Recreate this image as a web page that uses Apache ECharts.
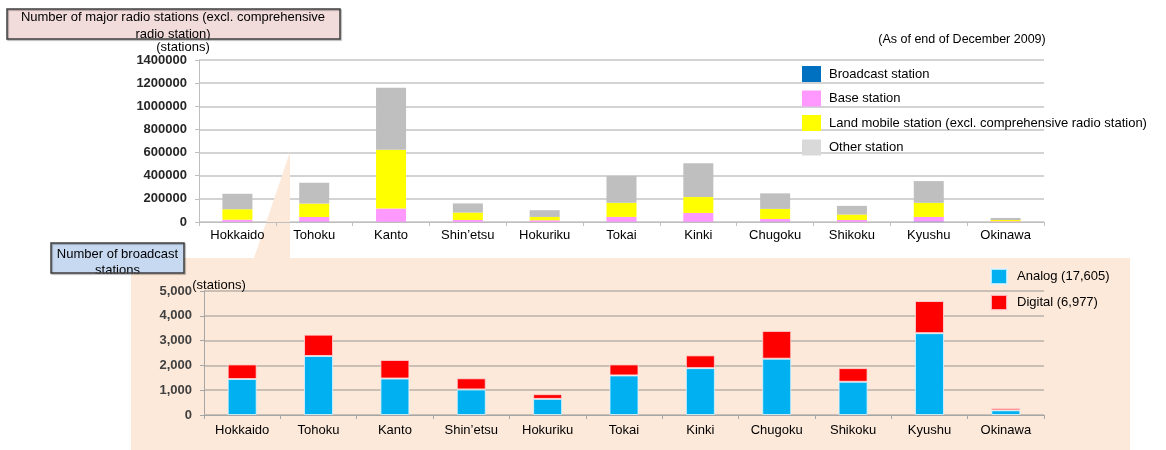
<!DOCTYPE html>
<html>
<head>
<meta charset="utf-8">
<script src="https://cdn.jsdelivr.net/npm/echarts@6/dist/echarts.min.js"></script>
<style>
html,body{margin:0;padding:0;background:#fff;}
#chart{width:1166px;height:450px;}
</style>
</head>
<body>
<div id="chart"></div>
<script>
var regions = ["Hokkaido","Tohoku","Kanto","Shin\u2019etsu","Hokuriku","Tokai","Kinki","Chugoku","Shikoku","Kyushu","Okinawa"];

// Top chart: major radio stations (stacked)
var broadcastStation = [2040, 3240, 2220, 1480, 840, 2040, 2405, 3390, 1890, 4595, 280];
var baseStation      = [18000, 40000, 114000, 16000, 14000, 42000, 76000, 23000, 15500, 39000, 5700];
var landMobile       = [90000, 116000, 509000, 64000, 29000, 122000, 137000, 87000, 47000, 122000, 11000];
var otherStation     = [134000, 180000, 534000, 79000, 58000, 232000, 293000, 134000, 75000, 188000, 18000];

// Bottom chart: broadcast stations
var analog  = [1450, 2380, 1470, 1030, 650, 1595, 1890, 2270, 1340, 3300, 190];
var digital = [590, 860, 750, 450, 190, 445, 515, 1120, 550, 1295, 90];

var topTicks = [0, 1400000, 200000];
var bottomTicks = [0, 5000, 1000];

var FONT = '"Liberation Sans", Arial, sans-serif';

function txt(text, x, y, size, align, color, z) {
  return {
    type: 'text', z: z || 30,
    style: {
      text: text, x: x, y: y,
      font: size + 'px ' + FONT,
      fill: color || '#000',
      align: align || 'center', verticalAlign: 'middle',
      textAlign: align || 'center', textVerticalAlign: 'middle'
    }
  };
}

var chart = echarts.init(document.getElementById('chart'), null, {renderer: 'canvas'});
var option = {
  animation: false,
  backgroundColor: '#ffffff',
  textStyle: {fontFamily: FONT},
  grid: [
    {left: 199, top: 60, width: 845, height: 162, containLabel: false},
    {left: 204, top: 291, width: 840, height: 124, containLabel: false}
  ],
  legend: [
    {
      orient: 'vertical', left: 802, top: 66, itemWidth: 19, itemHeight: 16, itemGap: 8.5,
      padding: 0, icon: 'rect',
      textStyle: {fontSize: 13, color: '#000', fontFamily: FONT, padding: [0, 0, 0, 3]},
      data: [
        {name: 'Broadcast station', itemStyle: {color: '#0070c0'}},
        {name: 'Base station', itemStyle: {color: '#ff99ff'}},
        {name: 'Land mobile station (excl. comprehensive radio station)', itemStyle: {color: '#ffff00'}},
        {name: 'Other station', itemStyle: {color: '#d9d9d9'}}
      ]
    },
    {
      orient: 'vertical', left: 990, top: 268, itemWidth: 16, itemHeight: 15, itemGap: 9,
      padding: 0, icon: 'rect',
      textStyle: {fontSize: 13, color: '#000', fontFamily: FONT, padding: [0, 0, 0, 5]},
      data: ['Analog (17,605)', 'Digital (6,977)']
    }
  ],
  xAxis: [
    {
      type: 'category', gridIndex: 0, data: regions, z: 5,
      axisLine: {show: true, lineStyle: {color: '#bfbfbf', width: 1}},
      axisTick: {show: true, length: 4, lineStyle: {color: '#bfbfbf'}},
      axisLabel: {fontSize: 13, color: '#000', fontFamily: FONT, margin: 7, interval: 0}
    },
    {
      type: 'category', gridIndex: 1, data: regions,
      axisLine: {show: true, lineStyle: {color: '#a6a6a6', width: 1}},
      axisTick: {show: true, length: 4, lineStyle: {color: '#a6a6a6'}},
      axisLabel: {fontSize: 13, color: '#000', fontFamily: FONT, margin: 9, interval: 0}
    }
  ],
  yAxis: [
    {
      type: 'value', gridIndex: 0, min: topTicks[0], max: topTicks[1], interval: topTicks[2], z: 0,
      axisLine: {show: true, lineStyle: {color: '#bfbfbf'}},
      axisTick: {show: true, length: 4, lineStyle: {color: '#bfbfbf'}},
      splitLine: {show: true, lineStyle: {color: '#c4c4c4', width: 1.5}},
      axisLabel: {
        fontSize: 13, fontWeight: 'bold', color: '#262626', fontFamily: FONT, margin: 12,
        formatter: function (v) { return String(v); }
      }
    },
    {
      type: 'value', gridIndex: 1, min: bottomTicks[0], max: bottomTicks[1], interval: bottomTicks[2],
      axisLine: {show: true, lineStyle: {color: '#a6a6a6'}},
      axisTick: {show: true, length: 4, lineStyle: {color: '#a6a6a6'}},
      splitLine: {show: true, lineStyle: {color: '#b8b0a8', width: 1.5}},
      axisLabel: {
        fontSize: 13, fontWeight: 'bold', color: '#404040', fontFamily: FONT, margin: 12,
        formatter: function (v) { return v.toLocaleString('en-US'); }
      }
    }
  ],
  series: [
    {name: 'Broadcast station', type: 'bar', stack: 'top', xAxisIndex: 0, yAxisIndex: 0, barWidth: 30,
     itemStyle: {color: '#4f81bd'}, data: broadcastStation},
    {name: 'Base station', type: 'bar', stack: 'top', xAxisIndex: 0, yAxisIndex: 0, barWidth: 30,
     itemStyle: {color: '#ff99ff'}, data: baseStation},
    {name: 'Land mobile station (excl. comprehensive radio station)', type: 'bar', stack: 'top', xAxisIndex: 0, yAxisIndex: 0, barWidth: 30,
     itemStyle: {color: '#ffff00'}, data: landMobile},
    {name: 'Other station', type: 'bar', stack: 'top', xAxisIndex: 0, yAxisIndex: 0, barWidth: 30,
     itemStyle: {color: '#bfbfbf'}, data: otherStation},
    {name: 'Analog (17,605)', type: 'bar', stack: 'bot', xAxisIndex: 1, yAxisIndex: 1, barWidth: 29,
     itemStyle: {color: '#00b0f0', borderColor: 'rgba(220,245,255,0.8)', borderWidth: 1}, data: analog},
    {name: 'Digital (6,977)', type: 'bar', stack: 'bot', xAxisIndex: 1, yAxisIndex: 1, barWidth: 29,
     itemStyle: {color: '#ff0000', borderColor: 'rgba(255,220,220,0.8)', borderWidth: 1}, data: digital}
  ],
  graphic: [
    // peach background panel + callout wedge
    {type: 'rect', z: -10, shape: {x: 131, y: 258, width: 999, height: 192}, style: {fill: '#fde9d9'}},
    {type: 'polygon', z: 1, shape: {points: [[290, 152], [290, 258], [254, 258]]}, style: {fill: '#fde9d9'}},
    // top title box
    {type: 'rect', z: 25, shape: {x: 7, y: 9, width: 333, height: 30}, style: {fill: '#f2dcdb', stroke: 'none'}},
    txt('Number of major radio stations (excl. comprehensive', 173, 17, 13),
    txt('radio station)', 173, 34.5, 13),
    {type: 'rect', z: 31, shape: {x: 5, y: 39.8, width: 340, height: 2.4}, style: {fill: '#ffffff'}},
    {type: 'rect', z: 32, shape: {x: 7, y: 9, width: 333, height: 30},
     style: {fill: 'none', stroke: '#404040', lineWidth: 1.5, shadowColor: 'rgba(0,0,0,0.35)', shadowOffsetX: 1, shadowOffsetY: 1, shadowBlur: 1}},
    txt('(stations)', 183, 47, 13),
    txt('(As of end of December 2009)', 962, 40, 12.5),
    // bottom title box
    {type: 'rect', z: 25, shape: {x: 51, y: 243, width: 133, height: 30}, style: {fill: '#c6d9f1', stroke: 'none'}},
    txt('Number of broadcast', 117.5, 254, 13),
    txt('stations', 117.5, 270, 13),
    {type: 'rect', z: 31, shape: {x: 131, y: 273.8, width: 55, height: 3}, style: {fill: '#fde9d9'}},
    {type: 'rect', z: 31, shape: {x: 49, y: 273.8, width: 82, height: 3}, style: {fill: '#ffffff'}},
    {type: 'rect', z: 32, shape: {x: 51, y: 243, width: 133, height: 30},
     style: {fill: 'none', stroke: '#404040', lineWidth: 1.5, shadowColor: 'rgba(0,0,0,0.35)', shadowOffsetX: 1, shadowOffsetY: 1, shadowBlur: 1}},
    txt('(stations)', 219, 285, 13)
  ]
};
chart.setOption(option);
</script>
</body>
</html>
